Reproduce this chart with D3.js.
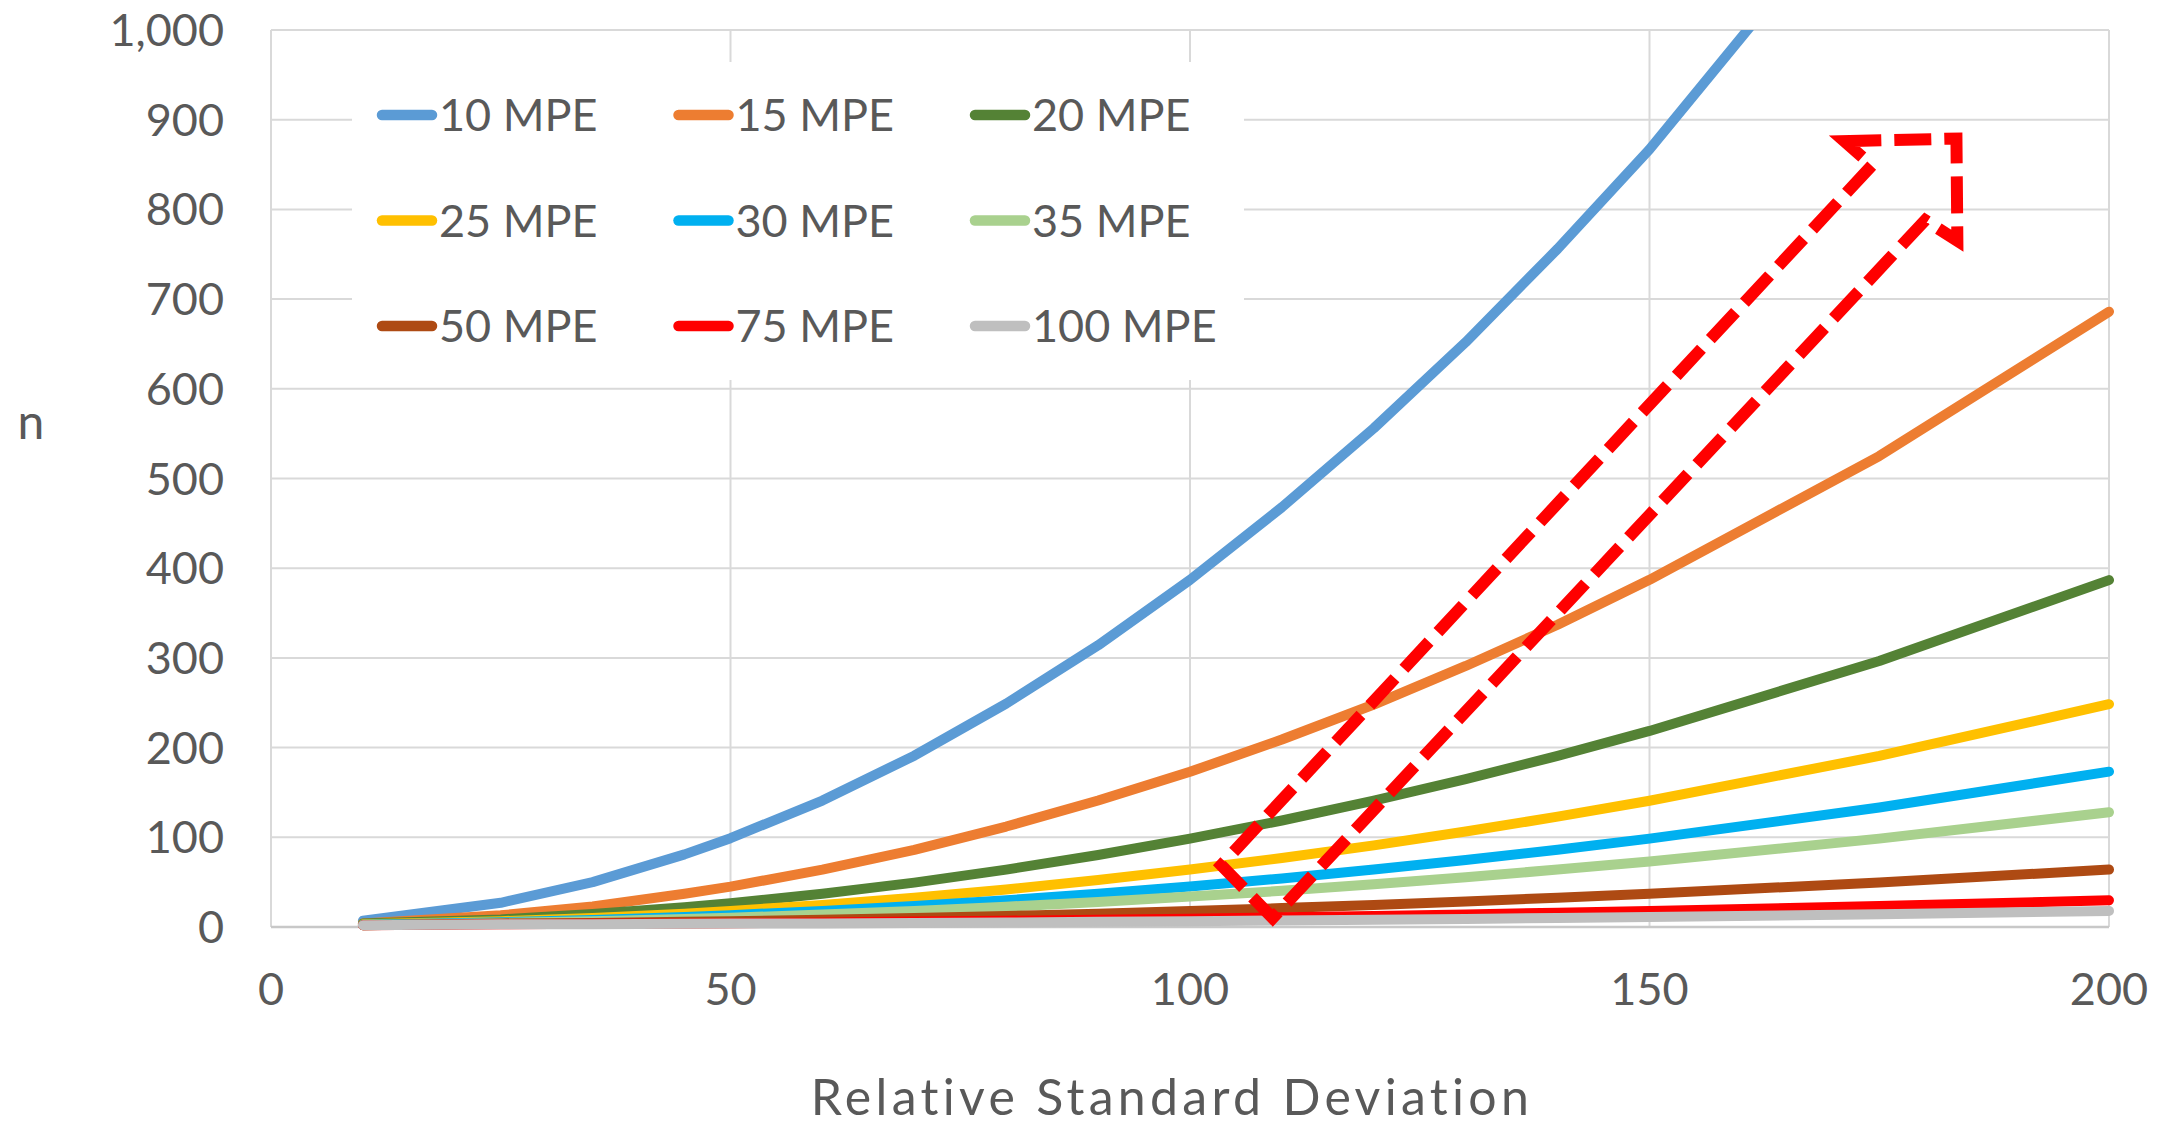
<!DOCTYPE html>
<html>
<head>
<meta charset="utf-8">
<script src="https://cdn.jsdelivr.net/npm/d3@7"></script>
<style>
  body { margin: 0; background: #fff; }
  svg text { font-family: Lato, "Noto Sans", sans-serif; fill: #595959; }
</style>
</head>
<body>
<div id="chart"></div>
<script>
// relative standard deviation (x values)
var rsd = [10, 25, 35, 45, 50, 60, 70, 80, 90, 100, 110, 120, 130, 140, 150, 175, 200];

// n for each MPE
var mpe10  = [7, 27, 50, 81, 99, 141, 191, 249, 314, 387, 468, 556, 652, 756, 867, 1179, 1540];
var mpe15  = [4, 13, 23, 37, 45, 64, 86, 112, 141, 173, 209, 248, 291, 337, 387, 525, 686];
var mpe20  = [4, 8.5, 14.4, 22, 26.5, 37, 49.5, 64, 80.3, 98.5, 118.7, 140.8, 164.8, 190.7, 218.6, 296.6, 386.7];
var mpe25  = [3, 6.5, 10, 14.9, 17.9, 24.6, 32.6, 41.8, 52.3, 64, 76.9, 91, 106.4, 123, 140.8, 190.7, 248.4];
var mpe30  = [2.5, 5.3, 7.7, 11.2, 13.2, 17.9, 23.4, 29.8, 37.1, 45.2, 54.1, 64, 74.6, 86.2, 98.5, 133.2, 173.2];
var mpe35  = [2, 4.5, 6.5, 8.9, 10.3, 13.8, 17.9, 22.6, 27.9, 33.9, 40.4, 47.7, 55.5, 64, 73.1, 98.5, 127.9];
var mpe50  = [2, 4, 4.5, 5.8, 6.5, 8, 10, 12.3, 14.9, 17.9, 21.1, 24.6, 28.5, 32.6, 37.1, 49.6, 64];
var mpe75  = [2, 3, 3.5, 3.9, 4.2, 5, 6, 7, 8, 9.3, 10.8, 12.3, 14, 15.9, 17.9, 23.4, 29.8];
var mpe100 = [2, 3, 3, 3.5, 4, 4, 4.5, 5, 5.8, 6.5, 7.3, 8, 9, 10, 11.1, 14.3, 17.9];

var seriesNames = ["10 MPE", "15 MPE", "20 MPE", "25 MPE", "30 MPE", "35 MPE", "50 MPE", "75 MPE", "100 MPE"];
var seriesColors = ["#5b9bd5", "#ed7d31", "#548235", "#ffc000", "#00b0f0", "#a9d18e", "#ae4a13", "#ff0000", "#bfbfbf"];
var seriesValues = [mpe10, mpe15, mpe20, mpe25, mpe30, mpe35, mpe50, mpe75, mpe100];

var xTicks = [0, 50, 100, 150, 200];
var yTicks = [0, 100, 200, 300, 400, 500, 600, 700, 800, 900, 1000];

// dashed block arrow annotation, in data units (rsd, n)
var arrowX = [171.2, 183.4, 183.5, 180, 109, 103.4, 174.2];
var arrowY = [876, 879, 765, 788, 10, 69, 849];

var width = 2166, height = 1126;
var margin = { left: 271, right: 57, top: 30, bottom: 199 };

var svg = d3.select('#chart')
    .append('svg')
    .attr('width', width)
    .attr('height', height);

var x = d3.scaleLinear().domain([0, 200]).range([margin.left, width - margin.right]);
var y = d3.scaleLinear().domain([0, 1000]).range([height - margin.bottom, margin.top]);

// gridlines
svg.append('g').selectAll('line')
    .data(yTicks)
    .enter()
    .append('line')
    .attr('x1', x(0)).attr('x2', x(200))
    .attr('y1', function (d) { return y(d); })
    .attr('y2', function (d) { return y(d); })
    .attr('stroke', '#d9d9d9')
    .attr('stroke-width', 2);

svg.append('g').selectAll('line')
    .data(xTicks)
    .enter()
    .append('line')
    .attr('y1', y(0)).attr('y2', y(1000))
    .attr('x1', function (d) { return x(d); })
    .attr('x2', function (d) { return x(d); })
    .attr('stroke', '#d9d9d9')
    .attr('stroke-width', 2);

// x axis line
svg.append('line')
    .attr('x1', x(0)).attr('x2', x(200))
    .attr('y1', y(0)).attr('y2', y(0))
    .attr('stroke', '#c8c8c8')
    .attr('stroke-width', 2.5);

// tick labels
svg.append('g').selectAll('text')
    .data(yTicks)
    .enter()
    .append('text')
    .attr('x', x(0) - 47)
    .attr('y', function (d) { return y(d) + 16; })
    .attr('text-anchor', 'end')
    .style('font-size', '45px')
    .text(function (d) { return d3.format(',')(d); });

svg.append('g').selectAll('text')
    .data(xTicks)
    .enter()
    .append('text')
    .attr('x', function (d) { return x(d); })
    .attr('y', 1005)
    .attr('text-anchor', 'middle')
    .style('font-size', '45px')
    .text(function (d) { return d; });

// axis titles
svg.append('text')
    .attr('x', 1172)
    .attr('y', 1115)
    .attr('text-anchor', 'middle')
    .style('font-size', '50px')
    .style('letter-spacing', '4.3px')
    .text('Relative Standard Deviation');

svg.append('text')
    .attr('x', 31)
    .attr('y', 439)
    .attr('text-anchor', 'middle')
    .style('font-size', '48px')
    .text('n');

// clip lines to plot area
svg.append('clipPath').attr('id', 'plotClip')
    .append('rect')
    .attr('x', x(0) - 10).attr('y', y(1000))
    .attr('width', x(200) - x(0) + 20).attr('height', y(0) - y(1000) + 10);

var line = d3.line()
    .x(function (d, i) { return x(rsd[i]); })
    .y(function (d) { return y(d); });

svg.append('g')
    .attr('clip-path', 'url(#plotClip)')
    .selectAll('path')
    .data(seriesValues)
    .enter()
    .append('path')
    .attr('d', line)
    .attr('fill', 'none')
    .attr('stroke', function (d, i) { return seriesColors[i]; })
    .attr('stroke-width', 10)
    .attr('stroke-linecap', 'round')
    .attr('stroke-linejoin', 'round');

// legend
svg.append('rect')
    .attr('x', 352).attr('y', 62)
    .attr('width', 892).attr('height', 318)
    .attr('fill', '#fff');

var legend = svg.selectAll('.legend')
    .data(seriesNames)
    .enter()
    .append('g')
    .attr('class', 'legend')
    .attr('transform', function (d, i) {
        var horz = 377 + (i % 3) * 296.5;
        var vert = 115 + Math.floor(i / 3) * 105.5;
        return `translate(${horz}, ${vert})`;
    });

legend.append('line')
    .attr('x1', 5).attr('x2', 55)
    .attr('y1', 0).attr('y2', 0)
    .attr('stroke', function (d, i) { return seriesColors[i]; })
    .attr('stroke-width', 10.5)
    .attr('stroke-linecap', 'round');

legend.append('text')
    .attr('x', 62)
    .attr('y', 16)
    .style('font-size', '45px')
    .text(function (d) { return d; });

// dashed arrow
var arrowPts = arrowX.map(function (d, i) { return [x(d), y(arrowY[i])]; });
svg.append('path')
    .attr('d', d3.line()(arrowPts) + 'Z')
    .attr('fill', 'none')
    .attr('stroke', '#ff0000')
    .attr('stroke-width', 12)
    .attr('stroke-dasharray', '37,13')
    .attr('stroke-linejoin', 'miter');
</script>
</body>
</html>
